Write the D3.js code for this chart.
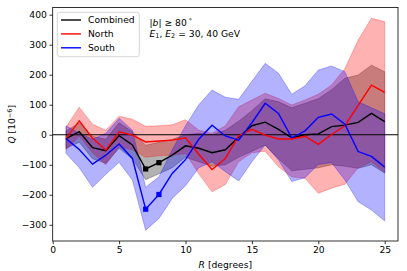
<!DOCTYPE html>
<html>
<head>
<meta charset="utf-8">
<script src="https://cdn.jsdelivr.net/npm/d3@7"></script>
<style>
  body { margin: 0; background: #fff; }
  svg { display: block; font-family: "DejaVu Sans", sans-serif; }
</style>
</head>
<body>
<div id="chart"></div>
<script>
// R in degrees
const radii = [1, 2, 3, 4, 5, 6, 7, 8, 9, 10, 11, 12, 13, 14, 15, 16, 17, 18, 19, 20, 21, 22, 23, 24, 25]

const combined   = [-13, 10, -43, -53, -3, -34, -114, -93, -68, -37, -45, -60, -50, -8, 30, 42, 18, -10, 0, 3, 27, 32, 41, 71, 44]
const combinedLo = [-45, -25, -80, -95, -45, -80, -150, -130, -110, -75, -90, -105, -100, -75, -55, -35, -80, -120, -115, -110, -100, -105, -112, -100, -128]
const combinedHi = [12, 40, -5, -15, 40, 10, -35, -25, -15, 0, 5, 0, 15, 45, 80, 120, 110, 90, 105, 120, 150, 188, 199, 232, 210]

const north   = [-13, 46, -12, -51, 10, -1, -24, -21, -18, -10, -65, -116, -79, -4, 18, -1, -14, -14, -5, -32, 1, 30, 98, 165, 141]
const northLo = [-50, -5, -60, -100, -40, -50, -75, -70, -68, -62, -130, -190, -166, -90, -60, -55, -107, -140, -145, -195, -178, -165, -110, -90, -125]
const northHi = [25, 92, 35, 15, 62, 52, 28, 30, 33, 50, 15, 5, 30, 93, 116, 138, 121, 99, 116, 135, 166, 220, 316, 388, 377]

const south   = [-13, -49, -98, -68, -31, -79, -248, -199, -129, -83, -15, 32, -4, -18, 40, 105, 71, -10, 13, 58, 69, 35, -56, -72, -108]
const southLo = [-62, -110, -175, -132, -92, -151, -318, -279, -212, -170, -110, -90, -123, -154, -90, -34, -84, -156, -143, -99, -93, -151, -223, -251, -287]
const southHi = [30, 5, -15, 5, 55, 15, -175, -140, -50, 30, 100, 149, 125, 118, 178, 238, 205, 135, 163, 216, 229, 210, 110, 90, 70]

// points drawn with square markers
const markedRadii = [7, 8]

const xTicks = [0, 5, 10, 15, 20, 25]
const yTicks = [-300, -200, -100, 0, 100, 200, 300, 400]

const series = [
  { name: 'Combined', color: '#000000', mid: combined, lo: combinedLo, hi: combinedHi, markers: true },
  { name: 'North', color: '#ff0000', mid: north, lo: northLo, hi: northHi, markers: false },
  { name: 'South', color: '#0000ff', mid: south, lo: southLo, hi: southHi, markers: true },
]

const width = 407, height = 271
const plotL = 52.7, plotR = 398, plotT = 7.5, plotB = 241
const fs = 9.2

const x = d3.scaleLinear().domain([0, 26]).range([plotL, plotR])
const y = d3.scaleLinear().domain([-354, 424]).range([plotB, plotT])

const svg = d3.select('#chart').append('svg')
  .attr('width', width)
  .attr('height', height)

svg.append('rect').attr('width', width).attr('height', height).attr('fill', '#fff')

svg.append('clipPath').attr('id', 'clip')
  .append('rect')
  .attr('x', plotL).attr('y', plotT)
  .attr('width', plotR - plotL).attr('height', plotB - plotT)

const plot = svg.append('g').attr('clip-path', 'url(#clip)')

// bands
const area = d3.area()
  .x(d => x(d.r))
  .y0(d => y(d.lo))
  .y1(d => y(d.hi))

series.forEach(s => {
  const rows = radii.map((r, i) => ({ r, lo: s.lo[i], hi: s.hi[i] }))
  plot.append('path')
    .datum(rows)
    .attr('d', area)
    .attr('fill', s.color)
    .attr('fill-opacity', 0.3)
    .attr('stroke', s.color)
    .attr('stroke-opacity', 0.3)
    .attr('stroke-width', 0.9)
})

// zero line
plot.append('line')
  .attr('x1', plotL).attr('x2', plotR)
  .attr('y1', y(0)).attr('y2', y(0))
  .attr('stroke', '#000')
  .attr('stroke-width', 1.1)

const line = d3.line()
  .x(d => x(d.r))
  .y(d => y(d.v))

series.forEach(s => {
  const rows = radii.map((r, i) => ({ r, v: s.mid[i] }))
  plot.append('path')
    .datum(rows)
    .attr('d', line)
    .attr('fill', 'none')
    .attr('stroke', s.color)
    .attr('stroke-width', 1.4)
  if (s.markers) {
    plot.selectAll(null)
      .data(rows.filter(d => markedRadii.includes(d.r)))
      .enter()
      .append('rect')
      .attr('x', d => x(d.r) - 2.6)
      .attr('y', d => y(d.v) - 2.6)
      .attr('width', 5.2)
      .attr('height', 5.2)
      .attr('fill', s.color)
  }
})

// axes
const xAxis = d3.axisBottom(x).tickValues(xTicks).tickSize(3.2).tickPadding(2.6)
const yAxis = d3.axisLeft(y).tickValues(yTicks).tickSize(3.2).tickPadding(2.6)
  .tickFormat(d => d < 0 ? '\u2212' + Math.abs(d) : d)

const gx = svg.append('g').attr('transform', `translate(0,${plotB})`).call(xAxis)
const gy = svg.append('g').attr('transform', `translate(${plotL},0)`).call(yAxis)

;[gx, gy].forEach(g => {
  g.select('.domain').remove()
  g.selectAll('line').attr('stroke', '#000').attr('stroke-width', 0.8)
  g.selectAll('text').attr('fill', '#000').style('font-size', fs + 'px').style('font-family', '"DejaVu Sans", sans-serif')
})

svg.append('rect')
  .attr('x', plotL).attr('y', plotT)
  .attr('width', plotR - plotL).attr('height', plotB - plotT)
  .attr('fill', 'none')
  .attr('stroke', '#000')
  .attr('stroke-width', 0.8)

// axis labels
const xl = svg.append('text')
  .attr('x', (plotL + plotR) / 2)
  .attr('y', 268)
  .attr('text-anchor', 'middle')
  .style('font-size', fs + 'px')
xl.append('tspan').attr('font-style', 'italic').text('R')
xl.append('tspan').text(' [degrees]')

const yl = svg.append('text')
  .attr('transform', `translate(15,${(plotT + plotB) / 2}) rotate(-90)`)
  .attr('text-anchor', 'middle')
  .style('font-size', fs + 'px')
yl.append('tspan').attr('font-style', 'italic').text('Q')
yl.append('tspan').text(' [10')
yl.append('tspan').attr('dy', -3.5).style('font-size', '6.5px').text('\u22126')
yl.append('tspan').attr('dy', 3.5).text(']')

// annotation
const a1 = svg.append('text').attr('x', 149.5).attr('y', 26).style('font-size', fs + 'px')
a1.append('tspan').text('|')
a1.append('tspan').attr('font-style', 'italic').text('b')
a1.append('tspan').text('| \u2265 80')
a1.append('tspan').attr('dy', -3.5).style('font-size', '6.5px').text(' \u00b0')

const a2 = svg.append('text').attr('x', 149.5).attr('y', 36.5).style('font-size', fs + 'px')
a2.append('tspan').attr('font-style', 'italic').text('E')
a2.append('tspan').attr('dy', 1.8).style('font-size', '6.5px').text('1')
a2.append('tspan').attr('dy', -1.8).text(', ')
a2.append('tspan').attr('font-style', 'italic').text('E')
a2.append('tspan').attr('dy', 1.8).style('font-size', '6.5px').text('2')
a2.append('tspan').attr('dy', -1.8).text(' = 30, 40 GeV')

// legend
const legend = svg.append('g')
legend.append('rect')
  .attr('x', 57.3).attr('y', 12.3)
  .attr('width', 82).attr('height', 44.4)
  .attr('rx', 2.5)
  .attr('fill', '#fff').attr('fill-opacity', 0.8)
  .attr('stroke', '#cccccc').attr('stroke-width', 0.8)

series.forEach((s, i) => {
  const ly = 20 + i * 13.9
  legend.append('line')
    .attr('x1', 61).attr('x2', 81)
    .attr('y1', ly).attr('y2', ly)
    .attr('stroke', s.color).attr('stroke-width', 1.4)
  legend.append('text')
    .attr('x', 88).attr('y', ly + 3.3)
    .style('font-size', fs + 'px')
    .text(s.name)
})
</script>
</body>
</html>
